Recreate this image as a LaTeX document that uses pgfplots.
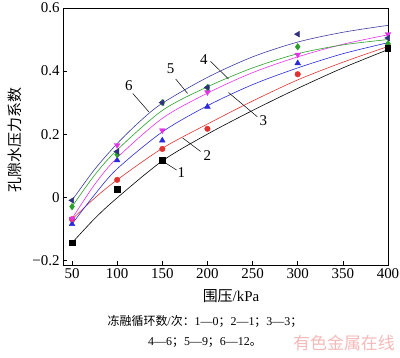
\documentclass[border=0pt]{standalone}
\usepackage{pgfplots}
\pgfplotsset{compat=1.18}
\usepackage{fontspec}
\setmainfont{Liberation Serif}
\newfontfamily\cjk{Noto Sans CJK SC}
\definecolor{cnavy}{RGB}{60,60,160}
\definecolor{cgreen}{RGB}{40,160,40}
\definecolor{cmag}{RGB}{230,50,230}
\definecolor{cblue}{RGB}{40,40,220}
\definecolor{cred}{RGB}{225,50,50}
\definecolor{wm}{RGB}{245,185,185}
\begin{document}
\begin{tikzpicture}
\path[use as bounding box] (-63bp,-93bp) rectangle (337bp,265bp);
\begin{axis}[
  scale only axis, width=325bp, height=257bp,
  xmin=40, xmax=400, ymin=-0.215, ymax=0.6,
  xtick={50,100,150,200,250,300,350,400},
  xticklabels={50,100,150,200,250,300,350,400},
  ytick={-0.2,0,0.2,0.4,0.6},
  yticklabels={−0.2,0,0.2,0.4,0.6},
  tick align=inside, tick pos=left,
  major tick length=4bp,
  /pgf/number format/assume math mode=true,
  ticklabel style={font=\fontsize{15}{15}\selectfont},
  axis line style={line width=0.8pt},
  every tick/.style={black, line width=0.6pt},
  clip=false,
]
% fitted curves
\addplot[black, line width=0.6pt, smooth] coordinates {(50,-0.145)(75,-0.068)(100,-0.002)(150,0.115)(200,0.2)(250,0.275)(300,0.345)(350,0.41)(400,0.468)};
\addplot[cred, line width=0.6pt, smooth] coordinates {(50,-0.07)(75,-0.003)(100,0.055)(150,0.155)(200,0.232)(250,0.305)(300,0.372)(350,0.428)(400,0.478)};
\addplot[cblue, line width=0.6pt, smooth] coordinates {(50,-0.085)(75,0.008)(100,0.09)(150,0.207)(200,0.29)(250,0.357)(300,0.41)(350,0.455)(400,0.49)};
\addplot[cmag, line width=0.6pt, smooth] coordinates {(50,-0.068)(75,0.04)(100,0.125)(150,0.25)(200,0.33)(250,0.395)(300,0.445)(350,0.485)(400,0.515)};
\addplot[cgreen, line width=0.6pt, smooth] coordinates {(50,-0.03)(75,0.07)(100,0.15)(150,0.275)(200,0.35)(250,0.41)(300,0.455)(350,0.483)(400,0.50)};
\addplot[cnavy, line width=0.6pt, smooth] coordinates {(50,-0.01)(75,0.088)(100,0.17)(125,0.24)(150,0.298)(200,0.38)(250,0.445)(300,0.492)(350,0.523)(400,0.545)};
% data points
\addplot[only marks, mark=*, mark size=2.8pt, color=cred] coordinates {(50,-0.07)(100,0.055)(150,0.153)(200,0.217)(300,0.39)(400,0.48)};
\addplot[only marks, mark=triangle*, mark size=3.3pt, color=cblue] coordinates {(50,-0.085)(100,0.117)(150,0.18)(200,0.287)(300,0.425)(400,0.48)};
\addplot[only marks, mark=triangle*, mark size=3.3pt, color=cmag, mark options={rotate=180}] coordinates {(50,-0.068)(100,0.165)(150,0.212)(200,0.333)(300,0.452)(400,0.517)};
\addplot[only marks, mark=diamond*, mark size=3.3pt, color=cgreen] coordinates {(50,-0.03)(100,0.135)(150,0.30)(200,0.348)(300,0.477)(400,0.487)};
\addplot[only marks, mark=triangle*, mark size=3.3pt, color=cnavy!80!black, mark options={rotate=90}] coordinates {(50,-0.01)(100,0.145)(150,0.30)(200,0.348)(300,0.517)(400,0.505)};
\addplot[only marks, mark=square*, mark size=2.7pt, color=black] coordinates {(50,-0.145)(100,0.025)(150,0.117)(400,0.472)};
% leaders and curve labels
\draw[line width=0.5pt] (axis cs:153.8,0.108) -- (axis cs:165.9,0.086);
\node[font=\fontsize{15}{15}\selectfont] at (axis cs:171,0.077) {1};
\draw[line width=0.5pt] (axis cs:172.5,0.188) -- (axis cs:192.4,0.145);
\node[font=\fontsize{15}{15}\selectfont] at (axis cs:200,0.132) {2};
\draw[line width=0.5pt] (axis cs:223.3,0.332) -- (axis cs:255.3,0.255);
\node[font=\fontsize{15}{15}\selectfont] at (axis cs:262,0.244) {3};
\draw[line width=0.5pt] (axis cs:203.4,0.431) -- (axis cs:223.3,0.375);
\node[font=\fontsize{15}{15}\selectfont] at (axis cs:196,0.437) {4};
\draw[line width=0.5pt] (axis cs:164.8,0.375) -- (axis cs:178,0.329);
\node[font=\fontsize{15}{15}\selectfont] at (axis cs:159.3,0.406) {5};
\draw[line width=0.5pt] (axis cs:117.3,0.329) -- (axis cs:135,0.271);
\node[font=\fontsize{15}{15}\selectfont] at (axis cs:113,0.354) {6};
\end{axis}
\node[rotate=90, font=\cjk\fontsize{15}{15}\selectfont] at (-48bp,125bp) {孔隙水压力系数};
\node[font=\fontsize{15}{15}\selectfont] at (168bp,-31bp) {{\cjk 围压}/kPa};
\node[font=\fontsize{12}{12}\selectfont] at (142bp,-56bp) {{\cjk 冻融循环数}/{\cjk 次：}1—0{\cjk ；}2—1{\cjk ；}3—3{\cjk ；}};
\node[font=\fontsize{12}{12}\selectfont] at (142bp,-78bp) {4—6{\cjk ；}5—9{\cjk ；}6—12{\cjk 。}};
\node[font=\cjk\fontsize{17}{17}\selectfont, text=wm] at (281bp,-78bp) {有色金属在线};
\end{tikzpicture}
\end{document}
